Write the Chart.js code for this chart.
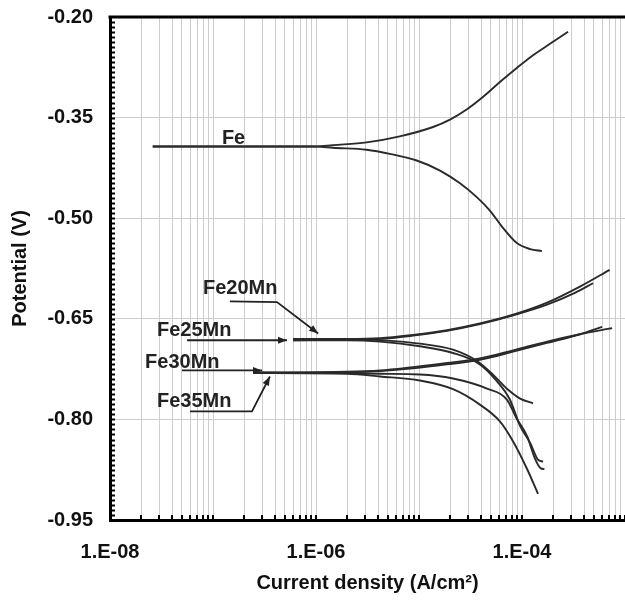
<!DOCTYPE html>
<html><head><meta charset="utf-8">
<script src="https://cdn.jsdelivr.net/npm/chart.js@4"></script>
<style>html,body{margin:0;padding:0;background:#fff}#wrap{width:625px;height:604px}</style>
</head><body><div id="wrap"><canvas id="c" width="625" height="604"></canvas></div>
<script>
// ---- tick labels ----
const xLabelTicks = [1e-8, 1e-6, 1e-4];
const xLabelTexts = ['1.E-08', '1.E-06', '1.E-04'];
const yTickValues = [-0.95, -0.80, -0.65, -0.50, -0.35, -0.20];

// ---- series (current density A/cm2, potential V) ----
const feAnodicI = [2.6e-8, 1.0e-6, 1.46e-6, 3.1e-6, 6.5e-6, 1.37e-5, 2.0e-5, 2.9e-5, 4.2e-5, 6.1e-5, 8.9e-5, 1.28e-4, 1.87e-4, 2.8e-4];
const feAnodicE = [-0.393, -0.393, -0.391, -0.387, -0.378, -0.364, -0.353, -0.338, -0.319, -0.297, -0.276, -0.257, -0.240, -0.222];
const feCathodicI = [2.6e-8, 1.0e-6, 1.46e-6, 3.1e-6, 5.2e-6, 9.5e-6, 1.6e-5, 2.5e-5, 3.66e-5, 4.9e-5, 6.5e-5, 8.9e-5, 1.2e-4, 1.56e-4];
const feCathodicE = [-0.393, -0.393, -0.395, -0.398, -0.404, -0.414, -0.429, -0.448, -0.469, -0.489, -0.514, -0.537, -0.546, -0.549];

const fe20AnodicI = [6e-7, 2e-6, 4.2e-6, 8.75e-6, 1.87e-5, 3.9e-5, 8.2e-5, 1.75e-4, 3.65e-4, 7.1e-4];
const fe20AnodicE = [-0.680, -0.680, -0.679, -0.674, -0.667, -0.657, -0.644, -0.626, -0.602, -0.577];
const fe20CathodicI = [6e-7, 2e-6, 4.2e-6, 1.02e-5, 2.14e-5, 3.66e-5, 5.2e-5, 7.1e-5, 9.6e-5, 1.28e-4];
const fe20CathodicE = [-0.680, -0.680, -0.682, -0.687, -0.696, -0.713, -0.733, -0.754, -0.769, -0.776];

const fe25AnodicI = [6e-7, 2e-6, 4.2e-6, 8.75e-6, 1.87e-5, 3.9e-5, 8.2e-5, 1.75e-4, 3.3e-4, 4.9e-4];
const fe25AnodicE = [-0.682, -0.681, -0.680, -0.675, -0.668, -0.658, -0.645, -0.629, -0.611, -0.597];
const fe25CathodicI = [6e-7, 2e-6, 4.2e-6, 1.02e-5, 2.14e-5, 3.9e-5, 5.7e-5, 7.6e-5, 9.6e-5, 1.2e-4, 1.43e-4, 1.6e-4];
const fe25CathodicE = [-0.682, -0.682, -0.684, -0.691, -0.701, -0.718, -0.743, -0.770, -0.810, -0.835, -0.860, -0.863];

const fe30AnodicI = [2.45e-7, 2e-6, 4.2e-6, 8.75e-6, 1.87e-5, 3.9e-5, 8.2e-5, 1.75e-4, 3.65e-4, 7.5e-4];
const fe30AnodicE = [-0.730, -0.729, -0.727, -0.722, -0.716, -0.709, -0.697, -0.684, -0.673, -0.664];
const fe30CathodicI = [2.45e-7, 2e-6, 4.2e-6, 1.02e-5, 2.14e-5, 4.57e-5, 7.1e-5, 8.9e-5, 1.12e-4, 1.34e-4, 1.52e-4, 1.65e-4];
const fe30CathodicE = [-0.730, -0.731, -0.732, -0.733, -0.739, -0.754, -0.770, -0.799, -0.825, -0.859, -0.873, -0.874];

const fe35AnodicI = [2.45e-7, 2e-6, 4.2e-6, 8.75e-6, 1.87e-5, 3.9e-5, 8.2e-5, 1.75e-4, 3.65e-4, 6.0e-4];
const fe35AnodicE = [-0.731, -0.730, -0.728, -0.724, -0.718, -0.711, -0.699, -0.686, -0.673, -0.662];
const fe35CathodicI = [2.45e-7, 2e-6, 4.2e-6, 1.02e-5, 2.14e-5, 3.9e-5, 6.1e-5, 8.2e-5, 1.12e-4, 1.43e-4];
const fe35CathodicE = [-0.731, -0.732, -0.736, -0.742, -0.755, -0.778, -0.803, -0.833, -0.874, -0.911];

// ---- annotations (in data coordinates) ----
const labelNames = ['Fe', 'Fe20Mn', 'Fe25Mn', 'Fe30Mn', 'Fe35Mn'];
const labelI = [1.22e-7, 8.0e-8, 2.86e-8, 2.19e-8, 2.86e-8];
const labelE = [-0.389, -0.613, -0.676, -0.724, -0.781];
const arrowPaths = [
  [],
  [[1.46e-7, -0.624], [4.18e-7, -0.625], [1.05e-6, -0.672]],
  [[5.6e-8, -0.682], [5.23e-7, -0.682]],
  [[5.0e-8, -0.727], [2.99e-7, -0.727]],
  [[5.98e-8, -0.788], [2.39e-7, -0.788], [3.57e-7, -0.736]]
];

const FONT = '"Liberation Sans", Arial, Helvetica, sans-serif';
const LINE = '#2a2a2a';

function pts(I, E) { return I.map((v, i) => ({x: v, y: E[i]})); }
const series = [
  ['Fe anodic', feAnodicI, feAnodicE], ['Fe cathodic', feCathodicI, feCathodicE],
  ['Fe20Mn anodic', fe20AnodicI, fe20AnodicE], ['Fe20Mn cathodic', fe20CathodicI, fe20CathodicE],
  ['Fe25Mn anodic', fe25AnodicI, fe25AnodicE], ['Fe25Mn cathodic', fe25CathodicI, fe25CathodicE],
  ['Fe30Mn anodic', fe30AnodicI, fe30AnodicE], ['Fe30Mn cathodic', fe30CathodicI, fe30CathodicE],
  ['Fe35Mn anodic', fe35AnodicI, fe35AnodicE], ['Fe35Mn cathodic', fe35CathodicI, fe35CathodicE]
];
const datasets = series.map(s => ({
  label: s[0], data: pts(s[1], s[2]), showLine: true, borderColor: LINE,
  borderWidth: 1.9, pointRadius: 0, fill: false, cubicInterpolationMode: 'monotone'
}));

// log tick positions for grid (axis decoration)
const xGridTicks = [];
for (let d = -8; d <= -4; d++) for (let m = 1; m <= 9; m++) xGridTicks.push(parseFloat(m + 'e' + d));
xGridTicks.push(1e-3);
const yMinorPerMajor = 20;

const decor = {
  id: 'decor',
  afterDatasetsDraw(chart) {
    const {ctx, chartArea: a, scales: {x, y}} = chart;
    ctx.save();
    ctx.strokeStyle = '#000';
    ctx.lineWidth = 3;
    ctx.beginPath(); ctx.moveTo(a.left - 1.5, a.top); ctx.lineTo(a.right, a.top); ctx.stroke();
    // inner minor ticks
    ctx.lineWidth = 2;
    ctx.beginPath();
    for (let k = 0; k < yTickValues.length - 1; k++) {
      const v0 = yTickValues[k], v1 = yTickValues[k + 1];
      for (let j = 0; j < yMinorPerMajor; j++) {
        const py = Math.round(y.getPixelForValue(v0 + (v1 - v0) * j / yMinorPerMajor)) + 0.5;
        ctx.moveTo(a.left, py); ctx.lineTo(a.left + 5, py);
      }
    }
    xGridTicks.forEach(v => {
      const px = Math.round(x.getPixelForValue(v));
      ctx.moveTo(px, a.bottom); ctx.lineTo(px, a.bottom - 5);
    });
    ctx.stroke();
    // annotations
    ctx.fillStyle = '#222';
    ctx.strokeStyle = '#222';
    ctx.font = 'bold 20px ' + FONT;
    ctx.textAlign = 'left';
    ctx.textBaseline = 'alphabetic';
    labelNames.forEach((t, i) => {
      ctx.fillText(t, x.getPixelForValue(labelI[i]), y.getPixelForValue(labelE[i]));
      const path = arrowPaths[i];
      if (!path.length) return;
      const P = path.map(p => [x.getPixelForValue(p[0]), y.getPixelForValue(p[1])]);
      ctx.lineWidth = 1.8;
      ctx.beginPath();
      ctx.moveTo(P[0][0], P[0][1]);
      for (let k = 1; k < P.length; k++) ctx.lineTo(P[k][0], P[k][1]);
      ctx.stroke();
      const [ex, ey] = P[P.length - 1], [sx, sy] = P[P.length - 2];
      const ang = Math.atan2(ey - sy, ex - sx), L = 9, W = 3.5;
      ctx.beginPath();
      ctx.moveTo(ex, ey);
      ctx.lineTo(ex - L * Math.cos(ang) + W * Math.sin(ang), ey - L * Math.sin(ang) - W * Math.cos(ang));
      ctx.lineTo(ex - L * Math.cos(ang) - W * Math.sin(ang), ey - L * Math.sin(ang) + W * Math.cos(ang));
      ctx.closePath();
      ctx.fill();
    });
    ctx.restore();
  }
};

new Chart(document.getElementById('c'), {
  type: 'scatter',
  data: {datasets},
  options: {
    responsive: false, animation: false,
    layout: {padding: {top: 17, left: 0, right: 0, bottom: 0}},
    plugins: {legend: {display: false}, tooltip: {enabled: false}},
    scales: {
      x: {
        type: 'logarithmic', min: 1e-8, max: 1e-3,
        afterBuildTicks: s => { s.ticks = xGridTicks.map(v => ({value: v})); },
        afterFit: s => { s.height = 84; s.paddingLeft = 0; s.paddingRight = 0; s.paddingTop = 0; s.paddingBottom = 0; },
        ticks: {
          autoSkip: false, maxRotation: 0, minRotation: 0, padding: 20, color: '#111',
          font: {family: FONT, size: 20, weight: 'bold'},
          callback: v => {
            const i = xLabelTicks.findIndex(t => Math.abs(Math.log10(t) - Math.log10(v)) < 1e-6);
            return i >= 0 ? xLabelTexts[i] : '';
          }
        },
        grid: {color: '#cdcdcd', lineWidth: 1, drawTicks: false},
        border: {display: true, color: '#000', width: 3},
        title: {display: true, text: 'Current density (A/cm²)', color: '#111',
          font: {family: FONT, size: 20, weight: 'bold'}, padding: {top: 0, bottom: 9}}
      },
      y: {
        type: 'linear', min: -0.95, max: -0.20,
        afterBuildTicks: s => { s.ticks = yTickValues.map(v => ({value: v})); },
        afterFit: s => { s.width = 110; s.paddingLeft = 0; s.paddingRight = 0; s.paddingTop = 0; s.paddingBottom = 0; },
        ticks: {
          padding: 17, color: '#111',
          font: {family: FONT, size: 20, weight: 'bold'},
          callback: v => Number(v).toFixed(2)
        },
        grid: {color: '#cdcdcd', lineWidth: 1, drawTicks: false},
        border: {display: true, color: '#000', width: 3},
        title: {display: true, text: 'Potential (V)', color: '#111',
          font: {family: FONT, size: 20, weight: 'bold'}, padding: {top: 8, bottom: 0}}
      }
    }
  },
  plugins: [decor]
});
</script>
</body></html>
